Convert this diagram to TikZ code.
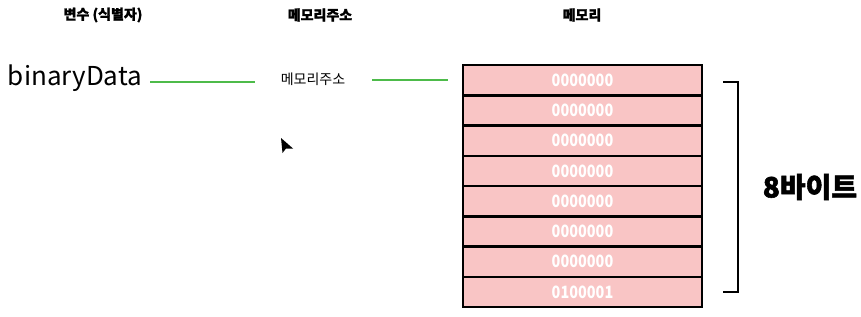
\documentclass[tikz,border=0pt]{standalone}
\usepackage{fontspec}
\setmainfont{Noto Sans CJK KR}
\usetikzlibrary{positioning}
\definecolor{cellpink}{HTML}{F9C5C5}
\definecolor{linkgreen}{HTML}{4DBB4A}

\begin{document}
\begin{tikzpicture}[x=1pt,y=-1pt,
  head/.style={font=\bfseries\addfontfeatures{FakeBold=1.5}\fontsize{14}{14}\selectfont},
  cell/.style={draw=black,line width=2.5pt,fill=cellpink,minimum width=239pt,minimum height=30.25pt,inner sep=0pt,text=white,font=\bfseries\addfontfeatures{FakeStretch=0.85}\fontsize{17}{17}\selectfont},
  link/.style={linkgreen,line width=2.5pt}]
        \useasboundingbox (0,0) rectangle (861,316);
        % column titles
        \node[head] (hvar) at (103,15) {변수 (식별자)};
        \node[head] (haddr) at (320,15) {메모리주소};
        \node[head] (hmem) at (582,15) {메모리};
        \node[font=\fontsize{26}{26}\selectfont,inner sep=0pt] (var) at (75,78) {binaryData};
        \node[font=\fontsize{14}{14}\selectfont,inner sep=0pt] (addr) at (313,79) {메모리주소};
        % memory cells
        \foreach \i/\v in {1/0000000, 2/0000000, 3/0000000, 4/0000000, 5/0000000, 6/0000000, 7/0000000, 8/0100001}
          \node[cell] (c\i) at (582.5,{65+30.25*(\i-0.5)}) {\v};
        \draw[link] ([xshift=8pt,yshift=-4pt]var.east) -- +(105,0);
        \draw[link] ([xshift=27pt,yshift=-1pt]addr.east) -- +(76,0);
        % bracket
        \coordinate (btop) at (723,82);
        \coordinate (bbot) at (723,292);
        \draw[line width=2.5pt] (btop) -- ++(15,0) |- (bbot);
        \node[font=\bfseries\addfontfeatures{FakeBold=2}\fontsize{28}{28}\selectfont,inner sep=0pt] (size) at (810,187) {8바이트};
        \fill (281,138) -- (282.5,153) -- (286,148.5) -- (293,148.5) -- cycle;
      \end{tikzpicture}
\end{document}
